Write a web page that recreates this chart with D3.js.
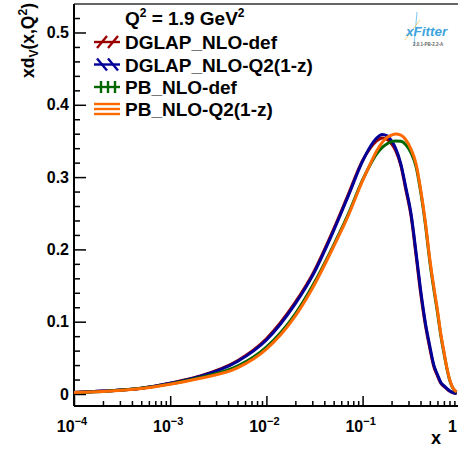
<!DOCTYPE html>
<html>
<head>
<meta charset="utf-8">
<script src="https://cdn.jsdelivr.net/npm/d3@7"></script>
<style>
  html, body { margin: 0; padding: 0; background: #fff; }
  svg { display: block; }
  text { font-family: "Liberation Sans", Arial, Helvetica, sans-serif; font-weight: bold; }
</style>
</head>
<body>
<svg id="chart" width="458" height="449"></svg>
<script>
// x grid (momentum fraction) shared by all PDF curves
const xValues = [1e-4, 2e-4, 5e-4, 1e-3, 2e-3, 5e-3, 0.01, 0.02, 0.03, 0.05, 0.07, 0.1,
  0.12, 0.14, 0.16, 0.18, 0.2, 0.22, 0.25, 0.28, 0.32, 0.36, 0.4, 0.45, 0.5, 0.55,
  0.6, 0.65, 0.7, 0.75, 0.8, 0.85, 0.9, 0.95];

// x d_v(x, Q^2) at Q^2 = 1.9 GeV^2 for each fit
const dglapDef = [0.002, 0.004, 0.008, 0.0150, 0.0245, 0.0460, 0.0765, 0.127, 0.165, 0.228, 0.274, 0.323,
  0.340, 0.350, 0.354, 0.352, 0.346, 0.337, 0.316, 0.284, 0.245, 0.191, 0.141, 0.095, 0.063, 0.038,
  0.025, 0.015, 0.0105, 0.0072, 0.0042, 0.0024, 0.0014, 0.001];
const dglapQ2 = [0.002, 0.004, 0.008, 0.0148, 0.0240, 0.0450, 0.0747, 0.125, 0.163, 0.226, 0.272, 0.322,
  0.342, 0.354, 0.359, 0.357, 0.350, 0.340, 0.318, 0.287, 0.248, 0.195, 0.145, 0.098, 0.066, 0.040,
  0.027, 0.016, 0.0115, 0.0077, 0.0045, 0.0025, 0.0015, 0.001];
const pbDef = [0.002, 0.0036, 0.0078, 0.0140, 0.0225, 0.0385, 0.065, 0.111, 0.149, 0.206, 0.247, 0.296,
  0.317, 0.332, 0.341, 0.346, 0.349, 0.350, 0.3495, 0.345, 0.333, 0.314, 0.281, 0.234, 0.183, 0.145,
  0.113, 0.081, 0.057, 0.036, 0.020, 0.0105, 0.0053, 0.003];
const pbQ2 = [0.002, 0.0035, 0.0075, 0.0135, 0.0215, 0.036, 0.062, 0.108, 0.146, 0.204, 0.245, 0.295,
  0.318, 0.336, 0.348, 0.355, 0.358, 0.3595, 0.358, 0.352, 0.338, 0.318, 0.284, 0.237, 0.186, 0.148,
  0.116, 0.083, 0.059, 0.037, 0.021, 0.011, 0.0055, 0.003];

const seriesNames = ["DGLAP_NLO-def", "DGLAP_NLO-Q2(1-z)", "PB_NLO-def", "PB_NLO-Q2(1-z)"];
const seriesValues = [dglapDef, dglapQ2, pbDef, pbQ2];
const seriesColors = ["#990000", "#000099", "#006600", "#ff6a00"];
const hatchKinds = ["fwd", "back", "vert", "horiz"];

const xMajorTicks = [1e-4, 1e-3, 1e-2, 1e-1, 1];
const xExponents = ["\u22124", "\u22123", "\u22122", "\u22121", ""];
const yMajorTicks = [0, 0.1, 0.2, 0.3, 0.4, 0.5];
const yTickLabels = ["0", "0.1", "0.2", "0.3", "0.4", "0.5"];

const svg = d3.select("#chart");
const frame = { left: 74, right: 458.8, top: 4, bottom: 406 };

const x = d3.scaleLog().domain([1e-4, 1]).range([frame.left, frame.right]);
const y = d3.scaleLinear().domain([-0.0166, 0.5394]).range([frame.bottom, frame.top]);

// frame: top border
svg.append("line")
  .attr("x1", frame.left).attr("x2", frame.right)
  .attr("y1", frame.top).attr("y2", frame.top)
  .attr("stroke", "#333").attr("stroke-width", 1.5);

// y axis: inward ticks, major every 0.1 and minor every 0.02
const yMinor = d3.range(0.02, 0.54, 0.02).filter(v => Math.abs(v * 10 - Math.round(v * 10)) > 1e-6);
const yMinorAxis = d3.axisLeft(y).tickValues(yMinor).tickSize(-6).tickFormat("");
const yAxis = d3.axisLeft(y).tickValues(yMajorTicks).tickSize(-12).tickPadding(5)
  .tickFormat((d, i) => yTickLabels[i]);

const gyMinor = svg.append("g").attr("transform", `translate(${frame.left},0)`).call(yMinorAxis);
const gy = svg.append("g").attr("transform", `translate(${frame.left},0)`).call(yAxis);
[gyMinor, gy].forEach(g => {
  g.select(".domain").remove();
  g.selectAll(".tick line").attr("stroke", "#000").attr("stroke-width", 1.5);
});
gy.selectAll(".tick text").attr("font-size", 16).attr("fill", "#000")
  .attr("font-family", "Liberation Sans, Arial, sans-serif").attr("font-weight", "bold");

// x axis: log decades with minor ticks 2..9
const xMinor = [];
for (let e = -4; e < 0; e++) for (let m = 2; m <= 9; m++) xMinor.push(m * Math.pow(10, e));
const xMinorAxis = d3.axisBottom(x).tickValues(xMinor).tickSize(-5).tickFormat("");
const xAxis = d3.axisBottom(x).tickValues(xMajorTicks).tickSize(-10).tickFormat("");
const gxMinor = svg.append("g").attr("transform", `translate(0,${frame.bottom})`).call(xMinorAxis);
const gx = svg.append("g").attr("transform", `translate(0,${frame.bottom})`).call(xAxis);
[gxMinor, gx].forEach(g => {
  g.select(".domain").remove();
  g.selectAll(".tick line").attr("stroke", "#000").attr("stroke-width", 1.5);
});

// x tick labels as 10^n; the last one is pulled inside the window
xMajorTicks.forEach((v, i) => {
  const last = xExponents[i] === "";
  const t = svg.append("text")
    .attr("x", last ? Math.min(x(v), 457) : x(v) - 2).attr("y", 432)
    .attr("text-anchor", last ? "end" : "middle")
    .attr("font-size", 16).attr("fill", "#000");
  if (last) {
    t.text("1");
  } else {
    t.append("tspan").text("10");
    t.append("tspan").attr("dy", -7).attr("font-size", 11).text(xExponents[i]);
  }
});

// axis lines
svg.append("line")
  .attr("x1", frame.left).attr("x2", frame.left)
  .attr("y1", frame.top).attr("y2", frame.bottom)
  .attr("stroke", "#000").attr("stroke-width", 2);
svg.append("line")
  .attr("x1", frame.left).attr("x2", frame.right)
  .attr("y1", frame.bottom).attr("y2", frame.bottom)
  .attr("stroke", "#000").attr("stroke-width", 2);

// axis titles
svg.append("text")
  .attr("x", 441).attr("y", 444).attr("text-anchor", "end")
  .attr("font-size", 18).text("x");

const yTitle = svg.append("text")
  .attr("transform", "translate(34,3) rotate(-90)")
  .attr("text-anchor", "end")
  .attr("font-size", 17.5);
yTitle.append("tspan").text("xd");
yTitle.append("tspan").attr("dy", 4).attr("font-size", 12).text("V");
yTitle.append("tspan").attr("dy", -4).text("(x,Q");
yTitle.append("tspan").attr("dy", -7).attr("font-size", 12).text("2");
yTitle.append("tspan").attr("dy", 7).text(")");

// curves
const line = d3.line()
  .x(d => x(d[0]))
  .y(d => y(d[1]))
  .curve(d3.curveMonotoneX);

seriesValues.forEach((vals, i) => {
  svg.append("path")
    .datum(xValues.map((xv, j) => [xv, vals[j]]))
    .attr("d", line)
    .attr("fill", "none")
    .attr("stroke", seriesColors[i])
    .attr("stroke-width", 3)
    .attr("stroke-linejoin", "round");
});

// legend
const legX = 125;
svg.append("text").attr("x", legX).attr("y", 25).attr("font-size", 19)
  .call(t => {
    t.append("tspan").text("Q");
    t.append("tspan").attr("dy", -8).attr("font-size", 12).text("2");
    t.append("tspan").attr("dy", 8).text(" = 1.9 GeV");
    t.append("tspan").attr("dy", -8).attr("font-size", 12).text("2");
  });

const legRows = [42, 64.5, 87, 109];
seriesNames.forEach((name, i) => {
  const cy = legRows[i];
  const col = seriesColors[i];
  const g = svg.append("g").attr("stroke", col).attr("stroke-width", 2.4).attr("fill", "none");
  const x0 = 94, x1 = 120;
  if (hatchKinds[i] === "horiz") {
    [-5, 0, 5].forEach(dy => g.append("line").attr("x1", x0).attr("x2", x1)
      .attr("y1", cy + dy).attr("y2", cy + dy));
  } else {
    g.append("line").attr("x1", x0).attr("x2", x1).attr("y1", cy).attr("y2", cy);
    if (hatchKinds[i] === "vert") {
      [101, 108, 115].forEach(hx => g.append("line").attr("x1", hx).attr("x2", hx)
        .attr("y1", cy - 6).attr("y2", cy + 6));
    } else {
      const s = hatchKinds[i] === "fwd" ? 1 : -1;
      [102, 113].forEach(hx => g.append("line")
        .attr("x1", hx - 5).attr("y1", cy + 6 * s)
        .attr("x2", hx + 5).attr("y2", cy - 6 * s));
    }
  }
  svg.append("text").attr("x", legX).attr("y", cy + 7).attr("font-size", 19).text(name);
});

// xFitter badge
const logo = svg.append("g");
logo.append("path").attr("d", "M417,12 L414,46").attr("stroke", "#7cc6ee").attr("stroke-width", 1).attr("fill", "none");
logo.append("path").attr("d", "M405,40 Q412,30 420,20").attr("stroke", "#f2d27a").attr("stroke-width", 1).attr("fill", "none");
logo.append("text").attr("x", 406).attr("y", 36).attr("font-size", 13.5)
  .attr("font-style", "italic").attr("font-weight", "normal").attr("fill", "#3ea4e0").text("xFitter");
logo.append("text").attr("x", 413).attr("y", 46).attr("font-size", 4.5)
  .attr("font-weight", "normal").attr("fill", "#666").text("2.0.1-PB-2.2-A");
</script>
</body>
</html>
